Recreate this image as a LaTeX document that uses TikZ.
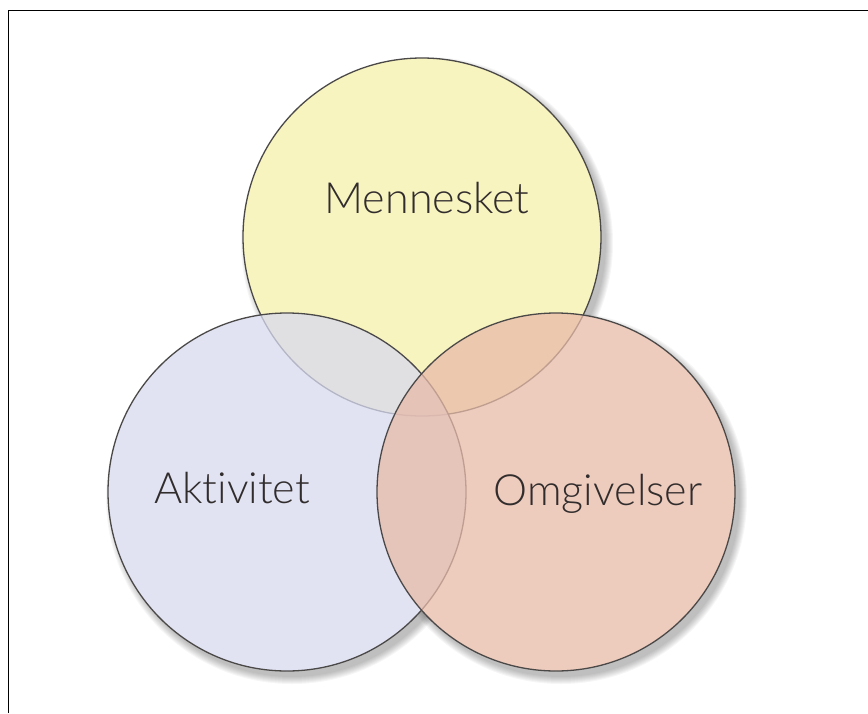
\documentclass[tikz,border=0pt]{standalone}
\usepackage{fontspec}
\setmainfont{Lato Light}[Ligatures={NoCommon,NoDiscretionary}]
\usetikzlibrary{positioning}
\definecolor{mennfill}{RGB}{248,244,192}
\definecolor{aktfill}{RGB}{216,218,240}
\definecolor{omgfill}{RGB}{231,186,168}
\definecolor{rim}{RGB}{75,72,72}
\definecolor{txt}{RGB}{50,45,45}
\tikzset{
	venn/.style={circle, minimum size=358pt, inner sep=0pt, draw=rim, line width=1.3pt},
	lbl/.style={text=txt, anchor=base, font=\fontsize{43}{50}\selectfont},
}

\begin{document}
\begin{tikzpicture}[x=1pt,y=-1pt]
		\useasboundingbox (0,0) rectangle (868,713);
		% frame
		\draw[line width=0.9pt] (8,713) -- (8,10) -- (868,10);

		% soft shadows, then white under the circles
		\foreach \r in {0,...,7}
			\foreach \cx/\cy in {422/237,287/492,556/492}
				\fill[black, opacity=0.035] (\cx+5,\cy+6) circle[radius=179+\r];
		\foreach \cx/\cy in {422/237,287/492,556/492}
			\fill[white] (\cx,\cy) circle[radius=179];

		\node[venn, fill=mennfill] (menn) at (422,237) {};
		\node[venn, fill=aktfill, fill opacity=0.75] (akt) at (287,492) {};
		\node[venn, fill=omgfill, fill opacity=0.75] (omg) at (556,492) {};

		\node[lbl] (menntxt) at (427,213) {Mennesket};
		\node[lbl] (akttxt) at (232,503) {Aktivitet};
		\node[lbl] (omgtxt) at (598,505) {Omgivelser};
	\end{tikzpicture}
\end{document}
